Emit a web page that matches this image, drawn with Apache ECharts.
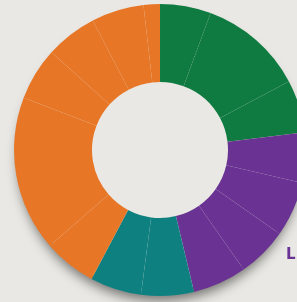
<!DOCTYPE html>
<html>
<head>
<meta charset="utf-8">
<script src="https://cdn.jsdelivr.net/npm/echarts@6/dist/echarts.min.js"></script>
<style>
  html, body { margin: 0; padding: 0; background: #e9e8e4; }
  #chart { width: 297px; height: 302px; }
</style>
</head>
<body>
<div id="chart"></div>
<script>
// Slices, in degrees of arc, clockwise from 12 o'clock
const sliceNames = ['g1', 'g2', 'g3', 'p1', 'p2', 'p3', 'p4', 't1', 't2', 'o1', 'o2', 'o3', 'o4', 'o5', 'o6'];
const sliceValues = [20.3, 41.7, 21, 20, 22, 20, 21.5, 21, 20.5, 21, 62, 21, 20.6, 20.9, 6.5];
const sliceGroups = ['green', 'green', 'green', 'purple', 'purple', 'purple', 'purple', 'teal', 'teal',
  'orange', 'orange', 'orange', 'orange', 'orange', 'orange'];

const groupColors = {
  green: '#107b40',
  purple: '#6a3393',
  teal: '#0f8080',
  orange: '#e77626',
};

const chart = echarts.init(document.getElementById('chart'));

chart.setOption({
  backgroundColor: '#e9e8e4',
  animation: false,
  graphic: [
    {
      // soft shadow under the ring
      type: 'circle',
      z: 0,
      shape: { cx: 160, cy: 150, r: 142 },
      style: {
        fill: '#e9e8e4',
        shadowBlur: 12,
        shadowOffsetY: 9,
        shadowColor: 'rgba(0, 0, 0, 0.5)',
      },
    },
    {
      type: 'text',
      z: 10,
      left: 286,
      top: 248,
      style: {
        text: 'L',
        fill: '#6a3393',
        font: 'bold 15px "DejaVu Sans"',
      },
    },
  ],
  series: [
    {
      type: 'pie',
      z: 5,
      center: [160, 150],
      radius: [68, 146],
      startAngle: 90,
      clockwise: true,
      silent: true,
      label: { show: false },
      labelLine: { show: false },
      itemStyle: {
        borderColor: 'rgba(255, 255, 255, 0.04)',
        borderWidth: 0.5,
      },
      data: sliceNames.map((name, i) => ({
        name,
        value: sliceValues[i],
        itemStyle: { color: groupColors[sliceGroups[i]] },
      })),
    },
  ],
});
</script>
</body>
</html>
